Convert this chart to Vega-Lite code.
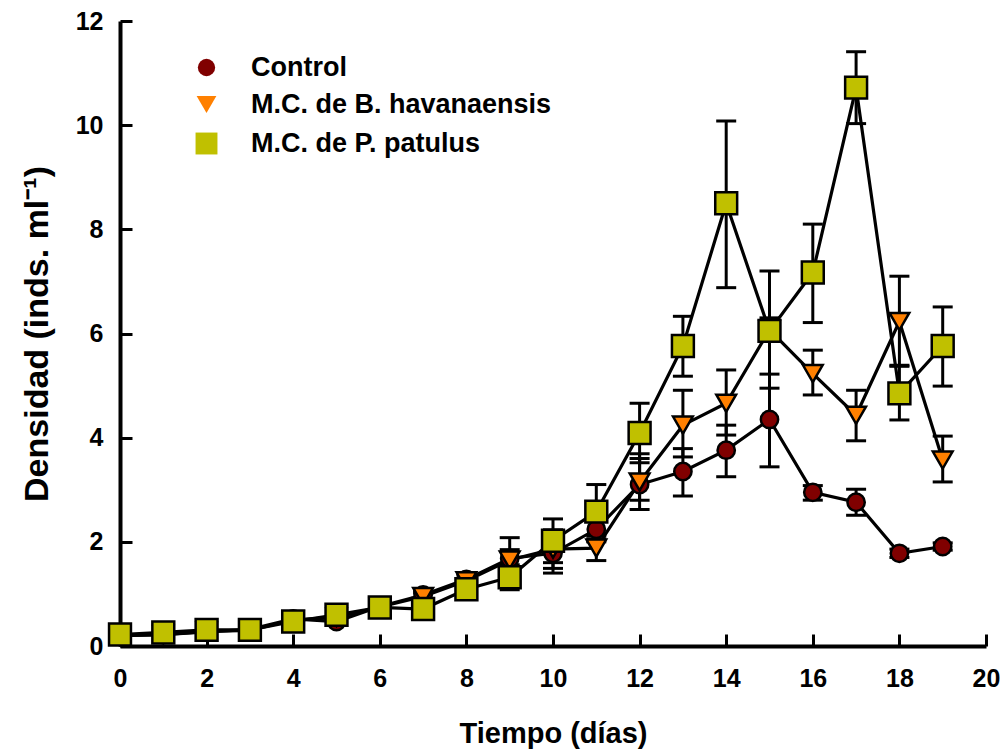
{
  "$schema": "https://vega.github.io/schema/vega-lite/v6.json",
  "width": 866,
  "height": 625,
  "autosize": {"type": "none"},
  "padding": {"left": 120, "top": 21, "right": 19, "bottom": 107},
  "background": "white",
  "config": {
    "view": {"stroke": null},
    "font": "Liberation Sans",
    "axis": {
      "grid": false,
      "domainColor": "black",
      "domainWidth": 4,
      "tickColor": "black",
      "tickWidth": 3,
      "tickSize": -12,
      "labelFont": "Liberation Sans",
      "labelFontSize": 25,
      "labelFontWeight": "bold",
      "labelColor": "black",
      "labelFlush": false,
      "labelOverlap": false,
      "titleFont": "Liberation Sans",
      "titleFontSize": 29,
      "titleFontWeight": "bold",
      "titleColor": "black"
    },
    "legend": {
      "title": null,
      "orient": "none",
      "legendX": 73,
      "legendY": 33,
      "symbolStrokeColor": "black",
      "symbolStrokeWidth": 2.5,
      "labelFont": "Liberation Sans",
      "labelFontSize": 27,
      "labelFontWeight": "bold",
      "labelColor": "black",
      "labelLimit": 600,
      "labelOffset": 31,
      "rowPadding": 8
    }
  },
  "data": {
    "values": [
      {"day": 0, "group": "Control", "mean": 0.20, "lo": 0.17, "hi": 0.23},
      {"day": 1, "group": "Control", "mean": 0.22, "lo": 0.19, "hi": 0.25},
      {"day": 2, "group": "Control", "mean": 0.27, "lo": 0.24, "hi": 0.30},
      {"day": 3, "group": "Control", "mean": 0.32, "lo": 0.28, "hi": 0.36},
      {"day": 4, "group": "Control", "mean": 0.52, "lo": 0.47, "hi": 0.57},
      {"day": 5, "group": "Control", "mean": 0.47, "lo": 0.42, "hi": 0.52},
      {"day": 6, "group": "Control", "mean": 0.76, "lo": 0.70, "hi": 0.82},
      {"day": 7, "group": "Control", "mean": 0.98, "lo": 0.90, "hi": 1.06},
      {"day": 8, "group": "Control", "mean": 1.28, "lo": 1.18, "hi": 1.40},
      {"day": 9, "group": "Control", "mean": 1.68, "lo": 1.30, "hi": 2.08},
      {"day": 10, "group": "Control", "mean": 1.78, "lo": 1.40, "hi": 2.16},
      {"day": 11, "group": "Control", "mean": 2.24, "lo": 2.00, "hi": 2.50},
      {"day": 12, "group": "Control", "mean": 3.10, "lo": 2.80, "hi": 3.60},
      {"day": 13, "group": "Control", "mean": 3.35, "lo": 2.88, "hi": 3.79},
      {"day": 14, "group": "Control", "mean": 3.76, "lo": 3.25, "hi": 4.24},
      {"day": 15, "group": "Control", "mean": 4.35, "lo": 3.44, "hi": 5.22},
      {"day": 16, "group": "Control", "mean": 2.95, "lo": 2.80, "hi": 3.08},
      {"day": 17, "group": "Control", "mean": 2.76, "lo": 2.51, "hi": 3.01},
      {"day": 18, "group": "Control", "mean": 1.78, "lo": 1.70, "hi": 1.86},
      {"day": 19, "group": "Control", "mean": 1.91, "lo": 1.84, "hi": 1.98},
      {"day": 0, "group": "M.C. de B. havanaensis", "mean": 0.20, "lo": 0.17, "hi": 0.23},
      {"day": 1, "group": "M.C. de B. havanaensis", "mean": 0.22, "lo": 0.19, "hi": 0.25},
      {"day": 2, "group": "M.C. de B. havanaensis", "mean": 0.28, "lo": 0.25, "hi": 0.31},
      {"day": 3, "group": "M.C. de B. havanaensis", "mean": 0.30, "lo": 0.27, "hi": 0.33},
      {"day": 4, "group": "M.C. de B. havanaensis", "mean": 0.50, "lo": 0.45, "hi": 0.55},
      {"day": 5, "group": "M.C. de B. havanaensis", "mean": 0.55, "lo": 0.50, "hi": 0.60},
      {"day": 6, "group": "M.C. de B. havanaensis", "mean": 0.75, "lo": 0.69, "hi": 0.81},
      {"day": 7, "group": "M.C. de B. havanaensis", "mean": 0.95, "lo": 0.88, "hi": 1.02},
      {"day": 8, "group": "M.C. de B. havanaensis", "mean": 1.25, "lo": 1.15, "hi": 1.36},
      {"day": 9, "group": "M.C. de B. havanaensis", "mean": 1.65, "lo": 1.50, "hi": 1.85},
      {"day": 10, "group": "M.C. de B. havanaensis", "mean": 1.86, "lo": 1.49, "hi": 2.23},
      {"day": 11, "group": "M.C. de B. havanaensis", "mean": 1.88, "lo": 1.64, "hi": 2.12},
      {"day": 12, "group": "M.C. de B. havanaensis", "mean": 3.15, "lo": 2.62, "hi": 3.69},
      {"day": 13, "group": "M.C. de B. havanaensis", "mean": 4.24, "lo": 3.63, "hi": 4.91},
      {"day": 14, "group": "M.C. de B. havanaensis", "mean": 4.66, "lo": 4.05, "hi": 5.30},
      {"day": 15, "group": "M.C. de B. havanaensis", "mean": 6.07, "lo": 5.85, "hi": 6.30},
      {"day": 16, "group": "M.C. de B. havanaensis", "mean": 5.23, "lo": 4.82, "hi": 5.68},
      {"day": 17, "group": "M.C. de B. havanaensis", "mean": 4.43, "lo": 3.94, "hi": 4.91},
      {"day": 18, "group": "M.C. de B. havanaensis", "mean": 6.23, "lo": 5.37, "hi": 7.10},
      {"day": 19, "group": "M.C. de B. havanaensis", "mean": 3.57, "lo": 3.15, "hi": 4.03},
      {"day": 0, "group": "M.C. de P. patulus", "mean": 0.22, "lo": 0.19, "hi": 0.25},
      {"day": 1, "group": "M.C. de P. patulus", "mean": 0.26, "lo": 0.23, "hi": 0.29},
      {"day": 2, "group": "M.C. de P. patulus", "mean": 0.31, "lo": 0.28, "hi": 0.34},
      {"day": 3, "group": "M.C. de P. patulus", "mean": 0.31, "lo": 0.28, "hi": 0.34},
      {"day": 4, "group": "M.C. de P. patulus", "mean": 0.47, "lo": 0.42, "hi": 0.52},
      {"day": 5, "group": "M.C. de P. patulus", "mean": 0.60, "lo": 0.55, "hi": 0.65},
      {"day": 6, "group": "M.C. de P. patulus", "mean": 0.74, "lo": 0.68, "hi": 0.80},
      {"day": 7, "group": "M.C. de P. patulus", "mean": 0.71, "lo": 0.65, "hi": 0.77},
      {"day": 8, "group": "M.C. de P. patulus", "mean": 1.09, "lo": 1.00, "hi": 1.18},
      {"day": 9, "group": "M.C. de P. patulus", "mean": 1.32, "lo": 1.08, "hi": 1.56},
      {"day": 10, "group": "M.C. de P. patulus", "mean": 2.02, "lo": 1.60, "hi": 2.44},
      {"day": 11, "group": "M.C. de P. patulus", "mean": 2.58, "lo": 2.06, "hi": 3.10},
      {"day": 12, "group": "M.C. de P. patulus", "mean": 4.09, "lo": 3.52, "hi": 4.66},
      {"day": 13, "group": "M.C. de P. patulus", "mean": 5.76, "lo": 5.18, "hi": 6.33},
      {"day": 14, "group": "M.C. de P. patulus", "mean": 8.50, "lo": 6.88, "hi": 10.08},
      {"day": 15, "group": "M.C. de P. patulus", "mean": 6.05, "lo": 4.95, "hi": 7.20},
      {"day": 16, "group": "M.C. de P. patulus", "mean": 7.17, "lo": 6.21, "hi": 8.10},
      {"day": 17, "group": "M.C. de P. patulus", "mean": 10.72, "lo": 10.03, "hi": 11.41},
      {"day": 18, "group": "M.C. de P. patulus", "mean": 4.85, "lo": 4.34, "hi": 5.39},
      {"day": 19, "group": "M.C. de P. patulus", "mean": 5.76, "lo": 4.99, "hi": 6.51}
    ]
  },
  "encoding": {
    "x": {
      "field": "day",
      "type": "quantitative",
      "scale": {"domain": [0, 20], "nice": false},
      "axis": {"values": [0, 2, 4, 6, 8, 10, 12, 14, 16, 18, 20], "title": "Tiempo (días)", "labelPadding": 32, "titlePadding": 28}
    }
  },
  "layer": [
    {
      "mark": {"type": "rule", "color": "black", "strokeWidth": 3},
      "encoding": {
        "y": {"field": "lo", "type": "quantitative", "scale": {"domain": [0, 12], "nice": false}, "axis": {"values": [0, 2, 4, 6, 8, 10, 12], "title": "Densidad (inds. ml⁻¹)", "titleFontSize": 34, "labelPadding": 29, "titlePadding": 21}},
        "y2": {"field": "hi"}
      }
    },
    {
      "mark": {"type": "tick", "orient": "horizontal", "color": "black", "size": 20, "thickness": 3, "opacity": 1},
      "encoding": {"y": {"field": "lo", "type": "quantitative"}}
    },
    {
      "mark": {"type": "tick", "orient": "horizontal", "color": "black", "size": 20, "thickness": 3, "opacity": 1},
      "encoding": {"y": {"field": "hi", "type": "quantitative"}}
    },
    {
      "mark": {"type": "line", "strokeWidth": 3.2, "color": "black"},
      "encoding": {
        "y": {"field": "mean", "type": "quantitative"},
        "detail": {"field": "group", "type": "nominal"}
      }
    },
    {
      "mark": {"type": "point", "filled": true, "stroke": "black", "strokeWidth": 2.5, "opacity": 1},
      "encoding": {
        "y": {"field": "mean", "type": "quantitative"},
        "shape": {
          "field": "group",
          "type": "nominal",
          "scale": {"domain": ["Control", "M.C. de B. havanaensis", "M.C. de P. patulus"], "range": ["circle", "triangle-down", "square"]},
          "legend": {
            "symbolStrokeColor": "black",
            "encode": {
              "symbols": {
                "update": {
                  "shape": {"signal": "datum.value === 'Control' ? 'M-4.04,0H-1M1,0H4.04M1,0A1,1,0,1,1,-1,0A1,1,0,1,1,1,0Z' : datum.value === 'M.C. de B. havanaensis' ? 'M-3.2,0H-0.56M0.56,0H3.2M-1,-0.8H1L0,1Z' : 'M-3.85,0H-0.95M0.95,0H3.85M-0.95,-0.95H0.95V0.95H-0.95Z'"},
                  "stroke": {"value": "black"},
                  "strokeWidth": {"value": 2.5}
                }
              }
            }
          }
        },
        "fill": {
          "field": "group",
          "type": "nominal",
          "scale": {"domain": ["Control", "M.C. de B. havanaensis", "M.C. de P. patulus"], "range": ["#800000", "#FF8000", "#C0C000"]},
          "legend": {
            "symbolStrokeColor": "black",
            "encode": {
              "symbols": {
                "update": {
                  "shape": {"signal": "datum.value === 'Control' ? 'M-4.04,0H-1M1,0H4.04M1,0A1,1,0,1,1,-1,0A1,1,0,1,1,1,0Z' : datum.value === 'M.C. de B. havanaensis' ? 'M-3.2,0H-0.56M0.56,0H3.2M-1,-0.8H1L0,1Z' : 'M-3.85,0H-0.95M0.95,0H3.85M-0.95,-0.95H0.95V0.95H-0.95Z'"},
                  "stroke": {"value": "black"},
                  "strokeWidth": {"value": 2.5}
                }
              }
            }
          }
        },
        "size": {
          "field": "group",
          "type": "nominal",
          "scale": {"domain": ["Control", "M.C. de B. havanaensis", "M.C. de P. patulus"], "range": [300, 480, 330]},
          "legend": {
            "symbolStrokeColor": "black",
            "encode": {
              "symbols": {
                "update": {
                  "shape": {"signal": "datum.value === 'Control' ? 'M-4.04,0H-1M1,0H4.04M1,0A1,1,0,1,1,-1,0A1,1,0,1,1,1,0Z' : datum.value === 'M.C. de B. havanaensis' ? 'M-3.2,0H-0.56M0.56,0H3.2M-1,-0.8H1L0,1Z' : 'M-3.85,0H-0.95M0.95,0H3.85M-0.95,-0.95H0.95V0.95H-0.95Z'"},
                  "stroke": {"value": "black"},
                  "strokeWidth": {"value": 2.5}
                }
              }
            }
          }
        }
      }
    }
  ]
}
